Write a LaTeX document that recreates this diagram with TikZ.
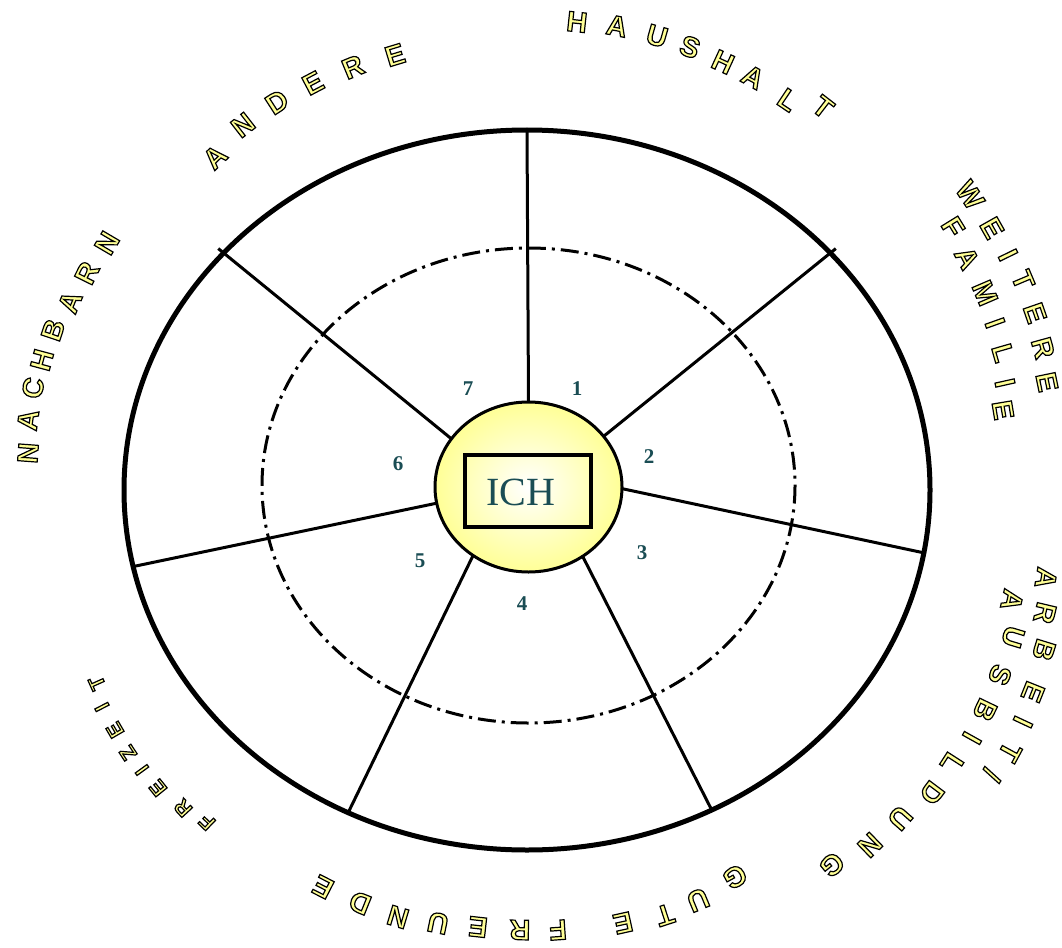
\documentclass[tikz,border=0pt]{standalone}
\usepackage{fontspec}
\usetikzlibrary{shapes.geometric}
\newfontfamily\serifnum{Liberation Serif}
\newfontfamily\labfont{Liberation Sans}
\definecolor{ly}{RGB}{255,255,150}
\definecolor{tealdk}{RGB}{26,77,84}
\newcommand\fA{\labfont\bfseries\fontsize{28.5}{28.5}\selectfont}
\newcommand\fB{\labfont\bfseries\fontsize{21}{21}\selectfont}
% outlined letter: fill yellow, stroke black (text render mode 2)
\newcommand\ol[2]{\special{pdf:literal direct 2 Tr 1.2 w 0 0 0 RG}#1#2\special{pdf:literal direct 0 Tr}}
\newcommand\placeA[3]{\pgfmathsetmacro\rr{atan2(-(#1-527),(490-#2))}%
  \node[inner sep=0pt,text=ly,rotate=\rr] at (#1,#2) {\ol{\fA}{#3}};}
\newcommand\placeB[3]{\pgfmathsetmacro\rr{atan2(-(#1-527),(490-#2))}%
  \node[inner sep=0pt,text=ly,rotate=\rr] at (#1,#2) {\ol{\fB}{#3}};}
\begin{document}
\begin{tikzpicture}[x=1pt,y=-1pt,
  numst/.style={font=\serifnum\bfseries\fontsize{21}{21}\selectfont, text=tealdk, inner sep=0pt},
  spoke/.style={line width=3pt},
  dashdot/.style={line width=3pt, dash pattern=on 18pt off 6pt on 3pt off 6pt}]
\useasboundingbox (0,0) rectangle (1062,947);
\fill[white] (0,0) rectangle (1062,947);
% outer ellipse
\node[ellipse, draw, line width=5pt, minimum width=806pt, minimum height=720pt,
      inner sep=0pt, outer sep=0pt] (outer) at (527,490) {};
% dash-dot ellipse
\draw[dashdot] (528.5,485.5) ellipse [x radius=266.5, y radius=237.5];
% centre
\node[ellipse, draw, line width=3pt, minimum width=187pt, minimum height=170pt,
      inner sep=0pt, outer sep=0pt, inner color=white, outer color=ly] (ich) at (528.5,487) {};
% spokes
\draw[spoke] (ich.90) -- (outer.90);
\draw[spoke, shorten >=-7pt] (ich.34.4) -- (outer.38);
\draw[spoke] (ich.-1.9) -- (outer.-9.06);
\draw[spoke] (ich.-52.6) -- (outer.-60.9);
\draw[spoke] (ich.231) -- (outer.241.2);
\draw[spoke] (ich.190) -- (outer.191.3);
\draw[spoke, shorten >=-7pt] (ich.148) -- (outer.142.3);
% box and text
\node[draw, line width=3.5pt, minimum width=126pt, minimum height=72pt, inner sep=0pt] (box) at (528,491) {};
\node[font=\serifnum\fontsize{40}{40}\selectfont, text=tealdk, inner sep=0pt] (ichtext) at (521,492) {ICH};
% numbers
\node[numst] (n1) at (577,389) {1};
\node[numst] (n2) at (649,457) {2};
\node[numst] (n3) at (642,553) {3};
\node[numst] (n4) at (522,604) {4};
\node[numst] (n5) at (420,561) {5};
\node[numst] (n6) at (398,464) {6};
\node[numst] (n7) at (468,389) {7};
% curved labels
\foreach \x/\y/\c in {577/22/H, 617/26/A, 657/36/U, 690/47/S, 723/62/H, 753/77/A, 788/100/L, 823/107/T}
  {\placeA{\x}{\y}{\c}}
\foreach \x/\y/\c in {215/157/A, 243/125/N, 277/102/D, 313/83/E, 353/67/R, 395/55/E}
  {\placeA{\x}{\y}{\c}}
\foreach \x/\y/\c in {28/453/N, 28/420/A, 33/388/C, 42/360/H, 53/330/B, 70/302/A, 87/273/R, 107/243/N}
  {\placeA{\x}{\y}{\c}}
\foreach \x/\y/\c in {970/195/W, 992/228/E, 1008/255/I, 1023/280/T, 1035/313/E, 1043/348/R, 1047/382/E}
  {\placeA{\x}{\y}{\c}}
\foreach \x/\y/\c in {953/227/F, 967/258/A, 985/293/M, 995/323/I, 1003/353/L, 1005/383/I, 1003/410/E}
  {\placeA{\x}{\y}{\c}}
\foreach \x/\y/\c in {1046/578/A, 1045/613/R, 1044/650/B, 1033/692/E, 1023/722/I, 1010/752/T}
  {\placeA{\x}{\y}{\c}}
\placeA{992}{775}{/}
\foreach \x/\y/\c in {1012/600/A, 1013/637/U, 1000/675/S, 985/710/B, 972/738/I, 952/763/L, 932/793/D, 900/818/U, 870/845/N, 832/865/G}
  {\placeA{\x}{\y}{\c}}
\foreach \x/\y/\c in {735/877/G, 698/900/U, 665/915/T, 623/923/E, 558/930/F, 520/930/R, 478/927/E, 438/923/U, 398/917/N, 360/903/D, 323/887/E}
  {\placeA{\x}{\y}{\c}}
\foreach \x/\y/\c in {207/822/F, 183/808/R, 158/788/E, 142/770/I, 128/753/Z, 115/730/E, 102/707/I, 97/683/T}
  {\placeB{\x}{\y}{\c}}
\end{tikzpicture}
\end{document}
